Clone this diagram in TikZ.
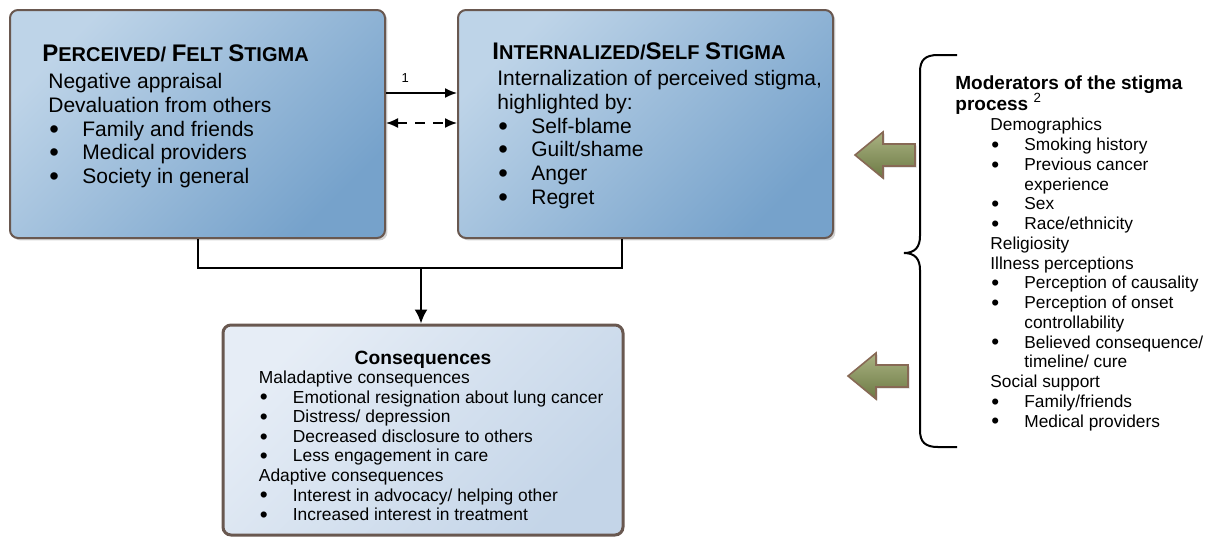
\documentclass[tikz,border=0pt]{standalone}
\usepackage{fontspec}
\setmainfont{Liberation Sans}
\usetikzlibrary{positioning,arrows,arrows.meta,shadows}

\definecolor{boxlight}{RGB}{190,212,232}
\definecolor{boxdark}{RGB}{118,162,203}
\definecolor{conlight}{RGB}{230,237,246}
\definecolor{condark}{RGB}{196,213,232}
\definecolor{boxedge}{RGB}{105,88,80}
\definecolor{olivelight}{RGB}{170,178,130}
\definecolor{olivedark}{RGB}{108,122,68}
\definecolor{oliveedge}{RGB}{135,105,85}

\newcommand{\firstcap}[2]{{\fontsize{12pt}{14pt}\selectfont #1}#2}
\newcommand{\bul}[1]{\makebox[17pt][l]{\hspace{0.5pt}\smash{\raisebox{-0.2ex}{\scalebox{1.3}{\textbullet}}}}#1}

\begin{document}
\begin{tikzpicture}[x=0.5pt, y=-0.5pt, node distance=1cm,
  stigmabox/.style={draw=boxedge, line width=1pt, rounded corners=4pt,
    top color=boxlight, bottom color=boxdark, shading angle=45,
    drop shadow={shadow xshift=1.2pt, shadow yshift=-1.2pt, opacity=0.35},
    minimum width=187.5pt, minimum height=114pt},
  conbox/.style={draw=boxedge, line width=1.5pt, rounded corners=4pt,
    top color=conlight, bottom color=condark, shading angle=45,
    minimum width=200pt, minimum height=105pt},
  titletext/.style={inner sep=0pt, font=\bfseries\fontsize{10pt}{12pt}\selectfont},
  bodytext/.style={inner sep=0pt, align=left, font=\fontsize{10.5pt}{11.85pt}\selectfont},
  contitle/.style={inner sep=0pt, font=\bfseries\fontsize{9.6pt}{11pt}\selectfont},
  context/.style={inner sep=0pt, align=left, font=\fontsize{8.7pt}{9.8pt}\selectfont},
  modtitle/.style={inner sep=0pt, align=left, font=\bfseries\fontsize{9.5pt}{10.5pt}\selectfont},
  modtext/.style={inner sep=0pt, align=left, font=\fontsize{8.65pt}{9.87pt}\selectfont},
  steplabel/.style={inner sep=0pt, font=\fontsize{6.5pt}{7pt}\selectfont},
  linkarrow/.style={line width=0.8pt, -{Latex[length=6pt,width=5pt]}},
  backarrow/.style={line width=0.8pt, {Latex[length=6pt,width=5pt]}-{Latex[length=6pt,width=5pt]},
    dash pattern=on 5pt off 4pt},
  joinline/.style={line width=1pt},
  greenarrow/.style={draw=oliveedge, line width=0.8pt, line join=miter,
    top color=olivelight, bottom color=olivedark,
    drop shadow={shadow xshift=0.8pt, shadow yshift=-0.8pt, opacity=0.3}},
  bracestyle/.style={line width=1pt}]

\useasboundingbox (0,0) rectangle (1216,538);

% Stigma boxes
\node [stigmabox] (perceived) at (197.5,124) {};
\node [stigmabox] (internal) at (645.5,124) {};
\node [titletext, below right=17.5pt and 16.5pt of perceived.north west] (perctitle)
	{\firstcap{P}{ERCEIVED/} \firstcap{F}{ELT} \firstcap{S}{TIGMA}};
\node [bodytext, below right=32pt and 19.5pt of perceived.north west] (percbody)
	{Negative appraisal\\ Devaluation from others\\ \bul{Family and friends}\\
	 \bul{Medical providers}\\ \bul{Society in general}};
\node [titletext, below right=16.5pt and 17.5pt of internal.north west] (inttitle)
	{\firstcap{I}{NTERNALIZED/}\firstcap{S}{ELF} \firstcap{S}{TIGMA}};
\node [bodytext, below right=30.5pt and 20pt of internal.north west] (intbody)
	{Internalization of perceived stigma,\\ highlighted by:\\ \bul{Self-blame}\\
	 \bul{Guilt/shame}\\ \bul{Anger}\\ \bul{Regret}};

% Links between boxes
\draw [linkarrow] ([yshift=15.5pt]perceived.east) -- node [steplabel, pos=0.27, above=5pt] (one) {1} ([yshift=15.5pt]internal.west);
\draw [backarrow] ([yshift=0.5pt]perceived.east) -- ([yshift=0.5pt]internal.west);

% Consequences
\node [conbox] (conseq) at (423,430) {};
\node [contitle, below=13.5pt of conseq.north] (contitlenode) {Consequences};
\node [context, below right=23.5pt and 18.5pt of conseq.north west] (conbody)
	{Maladaptive consequences\\ \bul{Emotional resignation about lung cancer}\\
	 \bul{Distress/ depression}\\ \bul{Decreased disclosure to others}\\
	 \bul{Less engagement in care}\\ Adaptive consequences\\
	 \bul{Interest in advocacy/ helping other}\\ \bul{Increased interest in treatment}};

\coordinate (merge) at (421,268);
\draw [joinline] (perceived.south) |- (merge) -| ([xshift=-11.75pt]internal.south);
\draw [joinline, -{Latex[length=7pt,width=6.5pt]}] (merge) -- (merge |- conseq.north);

% Moderators
\foreach \tx/\ty in {855/155, 848/376}
	\draw [greenarrow] (\tx,\ty) -- ++(28,-23) -- ++(0,12) -- ++(32,0) -- ++(0,22) -- ++(-32,0) -- ++(0,12) -- cycle;
\draw [bracestyle] (957,55) -- (938,55) .. controls (925,55) and (920,60) .. (920,72) -- (920,236)
	.. controls (920,247) and (915,253) .. (904,253) .. controls (915,253) and (920,259) .. (920,270)
	-- (920,430) .. controls (920,442) and (925,447) .. (938,447) -- (957,447);
\node [modtitle, anchor=north west] (modhead) at (955,75)
	{Moderators of the stigma\\ process \textsuperscript{\mdseries 2}};
\node [modtext, anchor=north west] (modbody) at (990,118)
	{Demographics\\ \bul{Smoking history}\\ \bul{Previous cancer}\\ \hspace*{17pt}experience\\
	 \bul{Sex}\\ \bul{Race/ethnicity}\\ Religiosity\\ Illness perceptions\\
	 \bul{Perception of causality}\\ \bul{Perception of onset}\\ \hspace*{17pt}controllability\\
	 \bul{Believed consequence/}\\ \hspace*{17pt}timeline/ cure\\ Social support\\
	 \bul{Family/friends}\\ \bul{Medical providers}};
\end{tikzpicture}
\end{document}
